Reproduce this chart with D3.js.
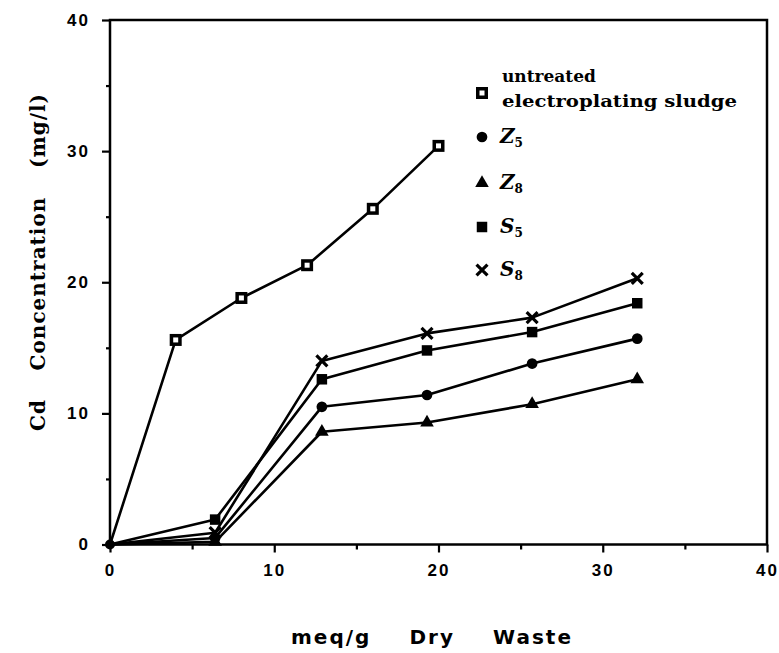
<!DOCTYPE html>
<html>
<head>
<meta charset="utf-8">
<script src="https://cdn.jsdelivr.net/npm/d3@7"></script>
<style>
  html, body { margin: 0; padding: 0; background: #fff; }
  svg { display: block; }
</style>
</head>
<body>
<svg id="chart"></svg>
<script>
// values (x = meq/g dry waste, y = Cd mg/l)
const untreatedX = [0, 4, 8, 12, 16, 20];
const untreatedY = [0, 15.6, 18.8, 21.3, 25.6, 30.4];

const treatedX = [0, 6.4, 12.9, 19.3, 25.7, 32.1];
const z5Y = [0, 0.5, 10.5, 11.4, 13.8, 15.7];
const z8Y = [0, 0.2, 8.6, 9.3, 10.7, 12.6];
const s5Y = [0, 1.9, 12.6, 14.8, 16.2, 18.4];
const s8Y = [0, 0.9, 14.0, 16.1, 17.3, 20.3];

const xMajorTicks = [0, 10, 20, 30, 40];
const xMinorTicks = [5, 15, 25, 35];
const yMajorTicks = [0, 10, 20, 30, 40];
const yMinorTicks = [5, 15, 25, 35];

const seriesKeys = ['untreated', 'Z5', 'Z8', 'S5', 'S8'];
const seriesSubs = ['', '5', '8', '5', '8'];
const seriesLetters = ['', 'Z', 'Z', 'S', 'S'];

const width = 779, height = 653;
const svg = d3.select('#chart').attr('width', width).attr('height', height);

const x = d3.scaleLinear().domain([0, 40]).range([110, 767]);
const y = d3.scaleLinear().domain([0, 40]).range([544.5, 20]);

const tickFont = 'Liberation Sans, Arial, sans-serif';
const titleFont = 'DejaVu Serif, serif';

// Axes
svg.append('g')
  .attr('transform', `translate(0,${y(0)})`)
  .call(d3.axisBottom(x).tickValues(xMajorTicks).tickSize(8).tickPadding(11).tickFormat(d3.format('d')));
svg.append('g')
  .attr('transform', `translate(0,${y(0)})`)
  .call(d3.axisBottom(x).tickValues(xMinorTicks).tickSize(5).tickFormat(''));
svg.append('g')
  .attr('transform', `translate(${x(0)},0)`)
  .call(d3.axisLeft(y).tickValues(yMajorTicks).tickSize(8).tickPadding(12).tickFormat(d3.format('d')));
svg.append('g')
  .attr('transform', `translate(${x(0)},0)`)
  .call(d3.axisLeft(y).tickValues(yMinorTicks).tickSize(4).tickFormat(''));

svg.selectAll('.domain').remove();
svg.selectAll('.tick line').attr('stroke', '#000').attr('stroke-width', 2.2);
svg.selectAll('.tick text')
  .attr('fill', '#000')
  .style('font-family', tickFont)
  .style('font-weight', 'bold')
  .style('font-size', '17px')
  .style('letter-spacing', '2px');

// frame
svg.append('rect')
  .attr('x', x(0)).attr('y', y(40))
  .attr('width', x(40) - x(0)).attr('height', y(0) - y(40))
  .attr('fill', 'none').attr('stroke', '#000').attr('stroke-width', 2.5);

// spread words so the title covers a given length
function spreadWords(textSel, target, gaps) {
  const len = textSel.node().getComputedTextLength();
  textSel.style('word-spacing', Math.max(0, (target - len) / gaps) + 'px');
}

// Axis titles
const yTitle = svg.append('text')
  .attr('transform', `translate(45,${262}) rotate(-90)`)
  .attr('text-anchor', 'middle')
  .style('font-family', titleFont)
  .style('font-weight', 'bold')
  .style('font-size', '20px')
  .style('letter-spacing', '1px')
  .text('Cd Concentration (mg/l)');
spreadWords(yTitle, 338, 2);

const xTitle = svg.append('text')
  .attr('x', 432).attr('y', 644)
  .attr('text-anchor', 'middle')
  .style('font-family', 'DejaVu Sans, sans-serif')
  .style('font-weight', 'bold')
  .style('font-size', '20px')
  .style('letter-spacing', '2px')
  .text('meq/g Dry Waste');
spreadWords(xTitle, 282, 2);

// Series
const series = [
  { key: 'untreated', xs: untreatedX, ys: untreatedY },
  { key: 'Z5', xs: treatedX, ys: z5Y },
  { key: 'Z8', xs: treatedX, ys: z8Y },
  { key: 'S5', xs: treatedX, ys: s5Y },
  { key: 'S8', xs: treatedX, ys: s8Y }
];

const line = d3.line()
  .x(d => x(d[0]))
  .y(d => y(d[1]));

const plot = svg.append('g');
series.forEach(s => {
  const pts = s.xs.map((v, i) => [v, s.ys[i]]);
  plot.append('path')
    .datum(pts)
    .attr('fill', 'none')
    .attr('stroke', '#000')
    .attr('stroke-width', 2.6)
    .attr('stroke-linejoin', 'round')
    .attr('d', line);
});

function drawMarker(g, key, cx, cy) {
  if (key === 'untreated') {
    g.append('rect').attr('x', cx - 6).attr('y', cy - 6).attr('width', 12).attr('height', 12)
      .attr('fill', '#000');
    g.append('rect').attr('x', cx - 2.5).attr('y', cy - 2.5).attr('width', 5).attr('height', 5)
      .attr('fill', '#fff');
  } else if (key === 'Z5') {
    g.append('path').attr('transform', `translate(${cx},${cy})`)
      .attr('d', d3.symbol(d3.symbolCircle, 90)()).attr('fill', '#000');
  } else if (key === 'Z8') {
    g.append('path').attr('transform', `translate(${cx},${cy})`)
      .attr('d', d3.symbol(d3.symbolTriangle, 80)()).attr('fill', '#000');
  } else if (key === 'S5') {
    g.append('path').attr('transform', `translate(${cx},${cy})`)
      .attr('d', d3.symbol(d3.symbolSquare, 110)()).attr('fill', '#000');
  } else if (key === 'S8') {
    g.append('path').attr('transform', `translate(${cx},${cy})`)
      .attr('d', d3.symbol(d3.symbolTimes, 80)()).attr('fill', 'none')
      .attr('stroke', '#000').attr('stroke-width', 3.2);
  }
}

series.forEach(s => {
  s.xs.forEach((v, i) => {
    if (i === 0) return;
    drawMarker(plot, s.key, x(v), y(s.ys[i]));
  });
});
// origin dot shared by all curves
plot.append('circle').attr('cx', x(0)).attr('cy', y(0)).attr('r', 5).attr('fill', '#000');

// Legend
const legend = svg.append('g');
const legendY = [93, 137, 183, 227, 270];
seriesKeys.forEach((key, i) => {
  drawMarker(legend, key, 482, legendY[i]);
  if (key === 'untreated') {
    legend.append('text')
      .attr('x', 502).attr('y', 82)
      .style('font-family', titleFont).style('font-weight', 'bold').style('font-size', '17px')
      .text('untreated');
    legend.append('text')
      .attr('x', 502).attr('y', 107)
      .style('font-family', titleFont).style('font-weight', 'bold').style('font-size', '17px')
      .attr('textLength', 235).attr('lengthAdjust', 'spacingAndGlyphs')
      .text('electroplating sludge');
  } else {
    const t = legend.append('text')
      .attr('x', 500).attr('y', legendY[i] + 6)
      .style('font-family', titleFont).style('font-size', '20px');
    t.append('tspan').style('font-style', 'italic').style('font-weight', 'bold').text(seriesLetters[i]);
    t.append('tspan').style('font-size', '12px').style('font-weight', 'bold').attr('dy', 4).text(seriesSubs[i]);
  }
});
</script>
</body>
</html>
